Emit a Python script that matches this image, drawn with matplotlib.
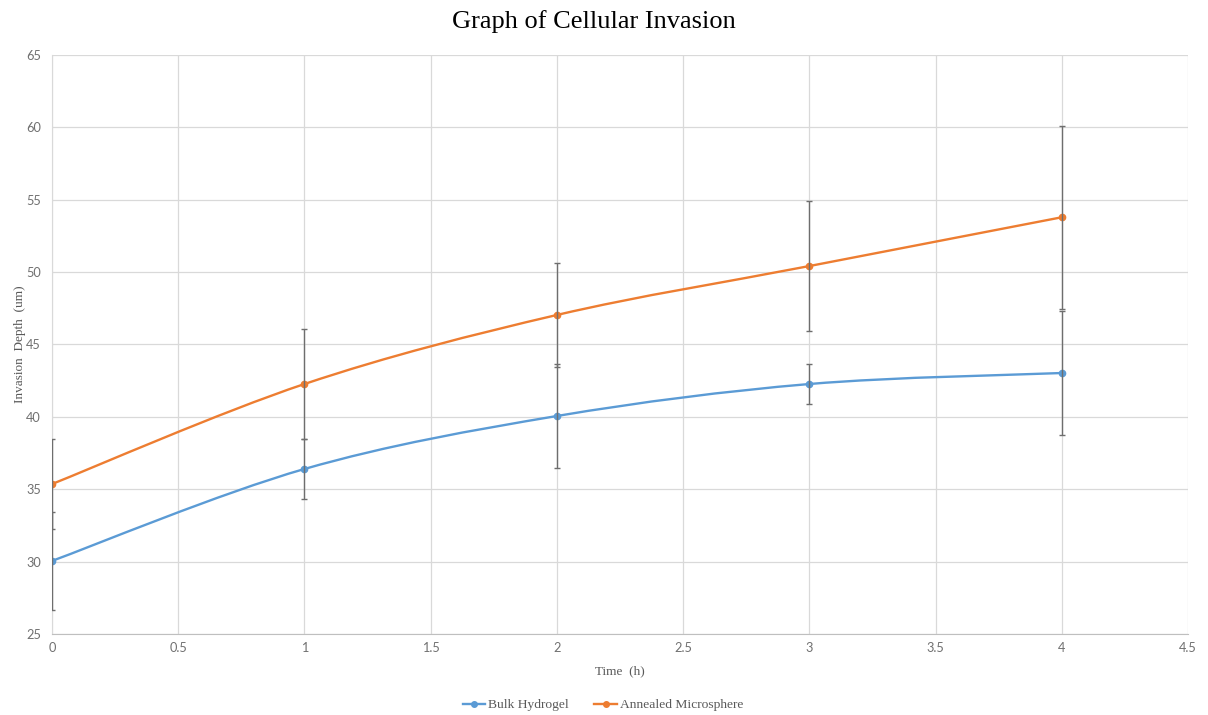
import matplotlib
matplotlib.use("Agg")
import matplotlib.pyplot as plt
from matplotlib.path import Path
from matplotlib.patches import PathPatch
from matplotlib.lines import Line2D
import numpy as np

time_h = [0, 1, 2, 3, 4]
bulk_depth = [30.05, 36.4, 40.06, 42.27, 43.03]
bulk_err = [3.4, 2.05, 3.6, 1.37, 4.3]
annealed_depth = [35.36, 42.27, 47.04, 50.42, 53.79]
annealed_err = [3.1, 3.8, 3.6, 4.5, 6.33]

series_names = ["Bulk Hydrogel", "Annealed Microsphere"]
colors = ["#5B9BD5", "#ED7D31"]

plt.rcParams['font.family'] = ['Liberation Serif', 'DejaVu Serif']

fig = plt.figure(figsize=(12.08, 7.15), dpi=100)
ax = fig.add_axes([52/1208, 1 - 634/715, (1188-52)/1208, (634-55)/715])


def smooth_path(xs, ys):
    pts = np.column_stack([xs, ys]).astype(float)
    n = len(pts)
    verts = [pts[0]]
    codes = [Path.MOVETO]
    for i in range(n - 1):
        p0 = pts[i - 1] if i > 0 else pts[i]
        p1 = pts[i]
        p2 = pts[i + 1]
        p3 = pts[i + 2] if i + 2 < n else pts[i + 1]
        c1 = p1 + (p2 - p0) / 6.0
        c2 = p2 - (p3 - p1) / 6.0
        verts += [c1, c2, p2]
        codes += [Path.CURVE4] * 3
    return Path(verts, codes)


for ys, errs, col in [(bulk_depth, bulk_err, colors[0]), (annealed_depth, annealed_err, colors[1])]:
    patch = PathPatch(smooth_path(time_h, ys), facecolor='none', edgecolor=col, lw=1.7, zorder=3)
    ax.add_patch(patch)
    ax.plot(time_h, ys, linestyle='none', marker='o', markersize=4.5, color=col, zorder=4)
    ax.errorbar(time_h, ys, yerr=errs, fmt='none', ecolor='#6E6E6E', elinewidth=1.0,
                capsize=2.2, capthick=1.0, zorder=5)

ax.set_xlim(0, 4.5)
ax.set_ylim(25, 65)
ax.set_xticks(np.arange(0, 4.51, 0.5))
ax.set_xticklabels(["0", "0.5", "1", "1.5", "2", "2.5", "3", "3.5", "4", "4.5"])
ax.set_yticks(np.arange(25, 66, 5))
ax.grid(True, color='#D9D9D9', lw=0.9)
ax.set_axisbelow(True)
for s in ['top', 'right']:
    ax.spines[s].set_visible(False)
ax.spines['left'].set_color('#D9D9D9')
ax.spines['bottom'].set_color('#BFBFBF')
ax.tick_params(length=0, labelsize=9.2, colors='#707070')
ax.tick_params(axis='y', pad=8)
ax.tick_params(axis='x', pad=6)
for lab in ax.get_xticklabels() + ax.get_yticklabels():
    lab.set_family(['Lato', 'DejaVu Sans'])
    lab.set_fontweight('normal')

ax.set_xlabel("Time  (h)", fontsize=9.5, color='#595959', labelpad=8)
ax.set_ylabel("Invasion  Depth  (um)", fontsize=9.5, color='#595959', labelpad=0)
fig.text(593.5/1208, 1 - 22/715, "Graph of Cellular Invasion", fontsize=19,
         ha='center', va='center', color='black')

handles = [Line2D([0], [0], color=c, lw=1.7, marker='o', markersize=4) for c in colors]
fig.legend(handles, series_names, loc='center', bbox_to_anchor=(603/1208, 1 - 705/715), ncol=2,
           frameon=False, fontsize=9.7, handlelength=1.7, columnspacing=1.9,
           labelcolor='#595959', handletextpad=0.2)

fig.savefig("out.png", dpi=100)
